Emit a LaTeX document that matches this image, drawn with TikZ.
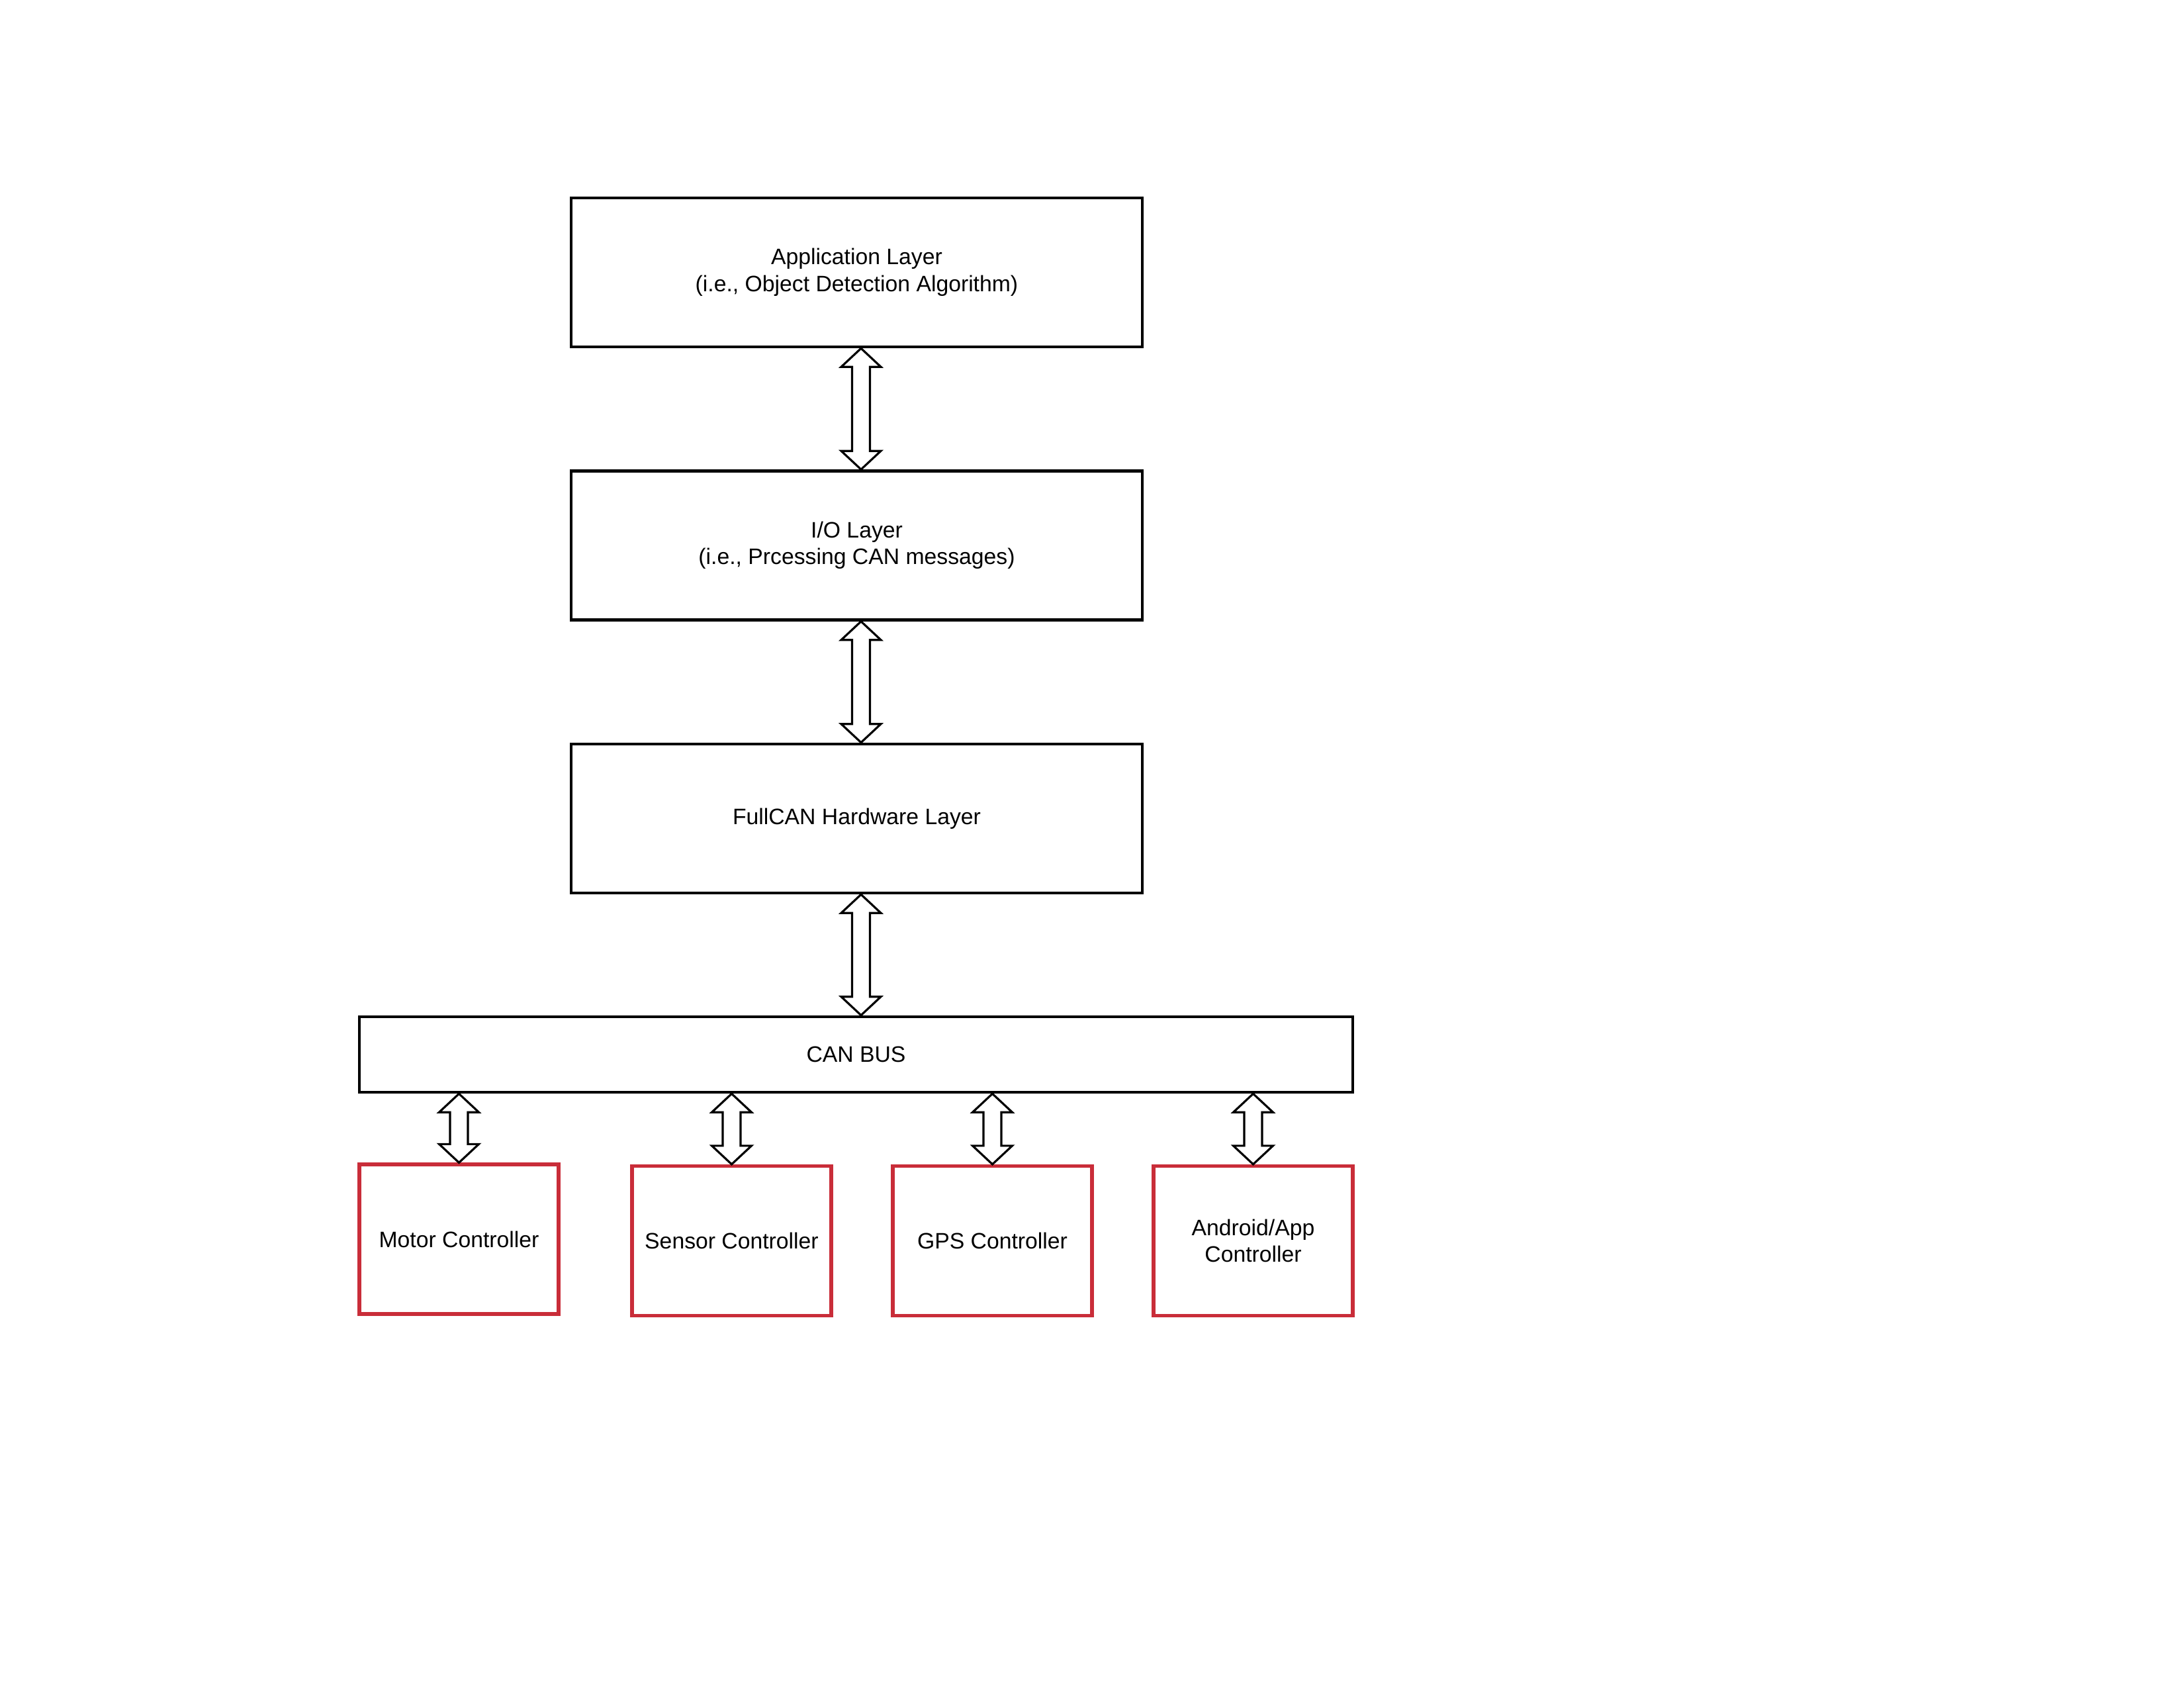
\documentclass[tikz,border=0pt]{standalone}
\usepackage{fontspec}
\setmainfont{Liberation Sans}
\usetikzlibrary{calc}
\definecolor{ctrlred}{HTML}{C92D39}

\tikzset{
  layer/.style={draw, line width=1.3pt, minimum width=8.63cm, minimum height=2.25cm, align=center, inner sep=0pt},
  ctrl/.style={draw=ctrlred, line width=1.5pt, minimum width=3.01cm, minimum height=2.26cm, align=center, inner sep=0pt},
  fatarrow/.style={draw, line width=0.9pt, fill=white, line join=miter, to path={
    let \p1=(\tikztostart), \p2=(\tikztotarget) in
    (\x1,\y1) -- (\x1+0.3cm,\y1-0.28cm) -- (\x1+0.135cm,\y1-0.28cm)
    -- (\x1+0.135cm,\y2+0.28cm) -- (\x1+0.3cm,\y2+0.28cm) -- (\x1,\y2)
    -- (\x1-0.3cm,\y2+0.28cm) -- (\x1-0.135cm,\y2+0.28cm)
    -- (\x1-0.135cm,\y1-0.28cm) -- (\x1-0.3cm,\y1-0.28cm) -- cycle}}
}

\begin{document}
\begin{tikzpicture}[font=\fontsize{9.6}{11.5}\selectfont]
  \useasboundingbox (0,0) rectangle (33,25.5);

  % Vrstvy
  \node[layer] (app) at (12.945,21.385) {Application Layer\\(i.e., Object Detection Algorithm)};
  \node[layer] (io) at (12.945,17.26) {I/O Layer\\(i.e., Prcessing CAN messages)};
  \node[layer] (fullcan) at (12.945,13.135) {FullCAN Hardware Layer};

  % Sbernice
  \node[layer, minimum width=15.01cm, minimum height=1.14cm] (canbus) at (12.935,9.57) {CAN BUS};

  % Radice
  \node[ctrl] (motor) at (6.935,6.78) {Motor Controller};
  \node[ctrl] (sensor) at (11.055,6.755) {Sensor Controller};
  \node[ctrl] (gps) at (14.995,6.755) {GPS Controller};
  \node[ctrl] (android) at (18.935,6.755) {Android/App\\Controller};

  % Sipky mezi vrstvami
  \draw[fatarrow] ([xshift=0.65mm]app.south) to ([xshift=0.65mm]io.north);
  \draw[fatarrow] ([xshift=0.65mm]io.south) to ([xshift=0.65mm]fullcan.north);
  \draw[fatarrow] ([xshift=0.65mm]fullcan.south) to ([xshift=0.65mm]fullcan.south |- canbus.north);

  % Sipky k radicum
  \foreach \c in {motor, sensor, gps, android}
    \draw[fatarrow] (\c.north |- canbus.south) to (\c.north);
\end{tikzpicture}
\end{document}
